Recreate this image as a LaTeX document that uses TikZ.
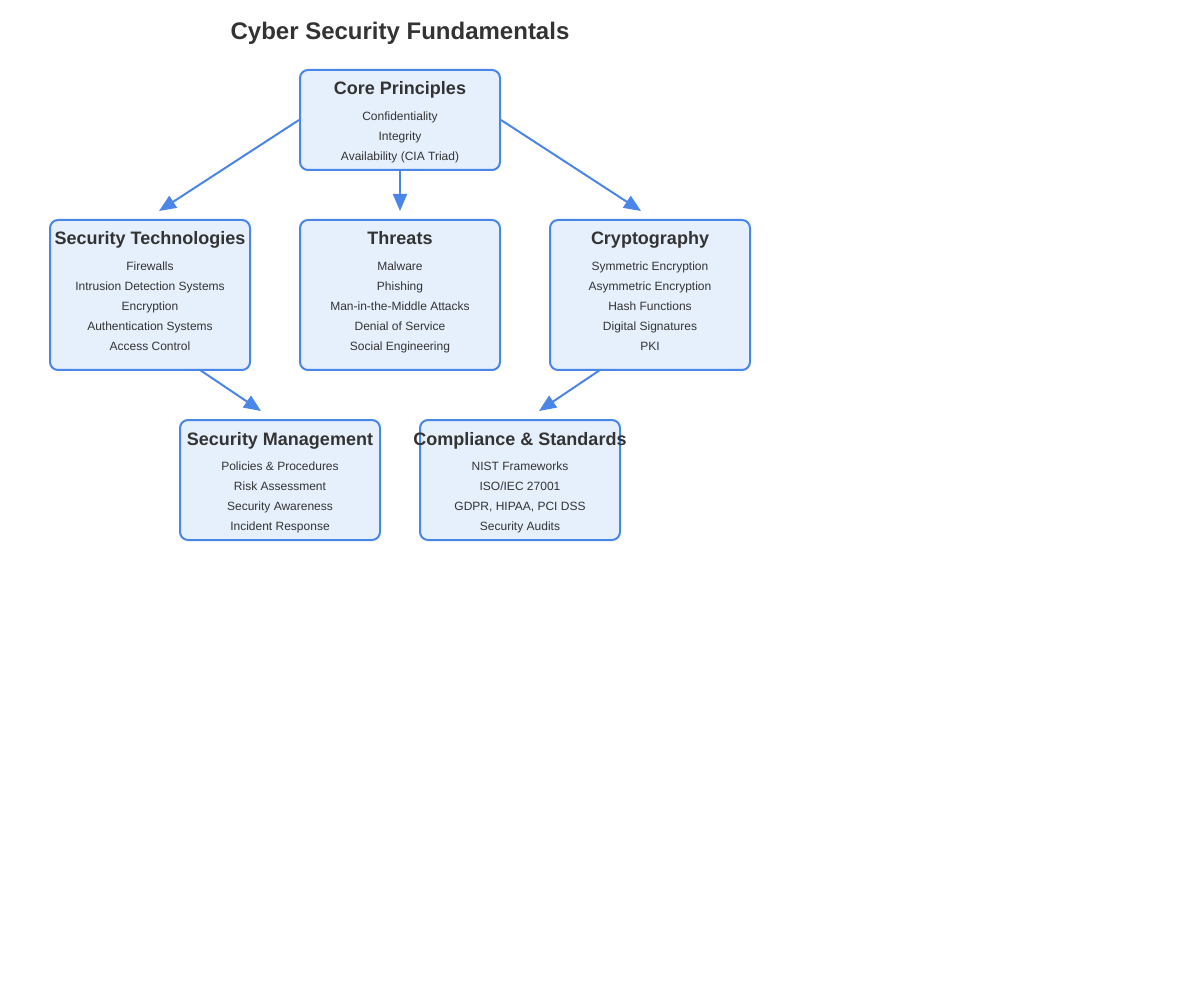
\documentclass[tikz,border=0pt]{standalone}
\usepackage{fontspec}
\setmainfont{Liberation Sans}
\usetikzlibrary{arrows.meta}
\definecolor{boxfill}{HTML}{E6F0FD}
\definecolor{boxline}{HTML}{4A86E8}
\definecolor{txt}{HTML}{333333}
\begin{document}
\begin{tikzpicture}[x=1pt,y=-1pt,
  box/.style={draw=boxline,fill=boxfill,line width=2pt,rounded corners=8pt,inner sep=0pt},
  ttl/.style={anchor=base,inner sep=0pt,text=txt,font=\fontsize{18}{20}\selectfont\bfseries},
  item/.style={anchor=base,inner sep=0pt,text=txt,font=\fontsize{12}{14}\selectfont},
  conn/.style={draw=boxline,line width=2pt,-{Triangle[length=17pt,width=14pt]}}]
\useasboundingbox (0,0) rectangle (1200,1000);
\node[anchor=base,inner sep=0pt,text=txt,font=\fontsize{24}{28}\selectfont\bfseries] (title) at (400,40) {Cyber Security Fundamentals};
% boxes
\node[box,minimum width=200pt,minimum height=100pt] (core) at (400,120) {};
\node[box,minimum width=200pt,minimum height=150pt] (tech) at (150,295) {};
\node[box,minimum width=200pt,minimum height=150pt] (threat) at (400,295) {};
\node[box,minimum width=200pt,minimum height=150pt] (crypto) at (650,295) {};
\node[box,minimum width=200pt,minimum height=120pt] (mgmt) at (280,480) {};
\node[box,minimum width=200pt,minimum height=120pt] (comp) at (520,480) {};
% titles
\node[ttl] (coret) at (400,95) {Core Principles};
\node[ttl] (techt) at (150,245) {Security Technologies};
\node[ttl] (threatt) at (400,245) {Threats};
\node[ttl] (cryptot) at (650,245) {Cryptography};
\node[ttl] (mgmtt) at (280,445) {Security Management};
\node[ttl] (compt) at (520,445) {Compliance \& Standards};
% items
\foreach \t [count=\i] in {Confidentiality,Integrity,Availability (CIA Triad)}
  \node[item] (corei\i) at (400,101+20*\i) {\t};
\foreach \t [count=\i] in {Firewalls,Intrusion Detection Systems,Encryption,Authentication Systems,Access Control}
  \node[item] (techi\i) at (150,251+20*\i) {\t};
\foreach \t [count=\i] in {Malware,Phishing,Man-in-the-Middle Attacks,Denial of Service,Social Engineering}
  \node[item] (threati\i) at (400,251+20*\i) {\t};
\foreach \t [count=\i] in {Symmetric Encryption,Asymmetric Encryption,Hash Functions,Digital Signatures,PKI}
  \node[item] (cryptoi\i) at (650,251+20*\i) {\t};
\foreach \t [count=\i] in {Policies \& Procedures,Risk Assessment,Security Awareness,Incident Response}
  \node[item] (mgmti\i) at (280,450+20*\i) {\t};
\foreach \t [count=\i] in {{NIST Frameworks},{ISO/IEC 27001},{GDPR, HIPAA, PCI DSS},{Security Audits}}
  \node[item] (compi\i) at (520,450+20*\i) {\t};
% arrow ends
\coordinate (e1) at (159,211);
\coordinate (e2) at (400,211);
\coordinate (e3) at (641,211);
\coordinate (e4) at (261,411);
\coordinate (e5) at (539,411);
\coordinate (s4) at (200,370);
\coordinate (s5) at (600,370);
\draw[conn] (core.west) -- (e1);
\draw[conn] (core.south) -- (e2);
\draw[conn] (core.east) -- (e3);
\draw[conn] (s4) -- (e4);
\draw[conn] (s5) -- (e5);
\end{tikzpicture}
\end{document}
